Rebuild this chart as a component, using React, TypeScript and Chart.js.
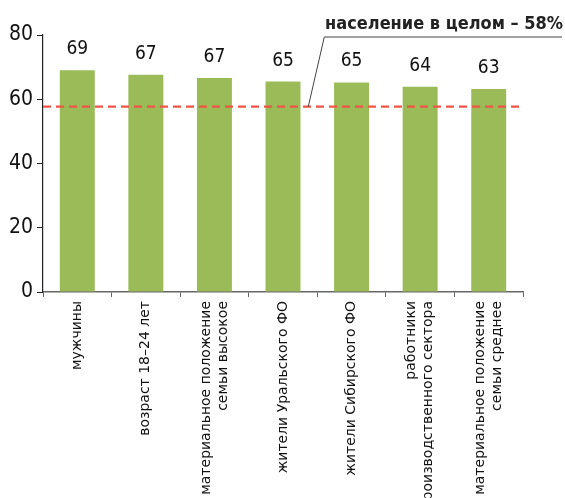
import React, { useEffect, useRef } from "react";
import { Chart, registerables } from "chart.js";

Chart.register(...registerables);

const categories: string[][] = [
  ["мужчины"],
  ["возраст 18–24 лет"],
  ["материальное положение", "семьи высокое"],
  ["жители Уральского ФО"],
  ["жители Сибирского ФО"],
  ["работники", "производственного сектора"],
  ["материальное положение", "семьи среднее"],
];
const values: number[] = [69.0, 67.6, 66.6, 65.5, 65.2, 63.9, 63.2];
const valueLabels: string[] = ["69", "67", "67", "65", "65", "64", "63"];
const populationAverage = 57.7;
const averageLabel = "население в целом – 58%";
const yTicks: number[] = [0, 20, 40, 60, 80];

const NUM_FONT = "'DejaVu Sans Condensed', sans-serif";
const X_FONT_SIZE = 14;
const X_LINE_HEIGHT = 1.22;

const overlayPlugin = {
  id: "overlay",
  beforeDraw(chart: any) {
    // center multi-line rotated category labels around their tick
    const x = chart.scales.x;
    if (!x || typeof x.getLabelItems !== "function") return;
    const items = x.getLabelItems(chart.chartArea);
    const lh = X_FONT_SIZE * X_LINE_HEIGHT;
    items.forEach((item: any) => {
      if (Array.isArray(item.label) && item.label.length > 1 && !item._shifted) {
        item.options.translation[0] -= (lh * (item.label.length - 1)) / 2;
        item._shifted = true;
      }
    });
  },
  afterDatasetsDraw(chart: any) {
    const { ctx, chartArea, scales } = chart;
    const y = scales.y;
    const x = scales.x;
    ctx.save();
    // value labels
    const meta = chart.getDatasetMeta(0);
    ctx.fillStyle = "#111";
    ctx.font = `19px ${NUM_FONT}`;
    ctx.textAlign = "center";
    ctx.textBaseline = "middle";
    meta.data.forEach((bar: any, i: number) => {
      ctx.fillText(valueLabels[i], bar.x, bar.y - 21);
    });
    // dashed average line
    const ya = y.getPixelForValue(populationAverage);
    ctx.strokeStyle = "#f05545";
    ctx.lineWidth = 2.2;
    ctx.setLineDash([8, 5]);
    ctx.beginPath();
    ctx.moveTo(chartArea.left, ya);
    ctx.lineTo(chartArea.right, ya);
    ctx.stroke();
    ctx.setLineDash([]);
    // leader line
    const xb = x.getPixelForValue(3.5) - 9;
    const yTop = y.getPixelForValue(80) + 2;
    ctx.strokeStyle = "#444";
    ctx.lineWidth = 1;
    ctx.beginPath();
    ctx.moveTo(xb, ya);
    ctx.lineTo(xb + 16, yTop);
    ctx.lineTo(chart.width - 3, yTop);
    ctx.stroke();
    // label
    ctx.fillStyle = "#222";
    ctx.font = `bold 18px ${NUM_FONT}`;
    ctx.textAlign = "right";
    ctx.textBaseline = "alphabetic";
    ctx.fillText(averageLabel, chart.width - 2, yTop - 8);
    ctx.restore();
  },
};

export default function App() {
  const ref = useRef<HTMLCanvasElement | null>(null);
  useEffect(() => {
    if (!ref.current) return;
    const chart = new Chart(ref.current, {
      type: "bar",
      data: {
        labels: categories,
        datasets: [
          {
            data: values,
            backgroundColor: "#9bbb59",
            categoryPercentage: 0.51,
            barPercentage: 1,
          },
        ],
      },
      options: {
        animation: false,
        responsive: false,
        devicePixelRatio: 1,
        layout: { padding: { left: 0, top: 35, right: 42, bottom: 0 } },
        plugins: { legend: { display: false }, tooltip: { enabled: false } },
        scales: {
          x: {
            grid: {
              offset: true,
              drawOnChartArea: false,
              drawTicks: true,
              tickLength: 5,
              color: "#666",
            },
            border: { color: "#666", width: 1.5 },
            ticks: {
              minRotation: 90,
              maxRotation: 90,
              autoSkip: false,
              color: "#111",
              padding: 4,
              font: { family: "'DejaVu Sans', sans-serif", size: X_FONT_SIZE, lineHeight: X_LINE_HEIGHT },
            },
            afterFit(scale: any) {
              scale.height = 206;
            },
          },
          y: {
            min: 0,
            max: 80,
            afterBuildTicks(scale: any) {
              scale.ticks = yTicks.map((v) => ({ value: v }));
            },
            grid: {
              drawOnChartArea: false,
              drawTicks: true,
              tickLength: 6,
              color: "#222",
            },
            border: { color: "#222", width: 1.2 },
            ticks: {
              color: "#111",
              padding: 4,
              font: { family: NUM_FONT, size: 21 },
            },
            afterFit(scale: any) {
              scale.width = 43;
            },
          },
        },
      },
      plugins: [overlayPlugin],
    });
    return () => chart.destroy();
  }, []);
  return (
    <div style={{ position: "absolute", left: 0, top: 0, width: 565, height: 498, background: "#fff" }}>
      <canvas ref={ref} width={565} height={498} style={{ display: "block" }} />
    </div>
  );
}
